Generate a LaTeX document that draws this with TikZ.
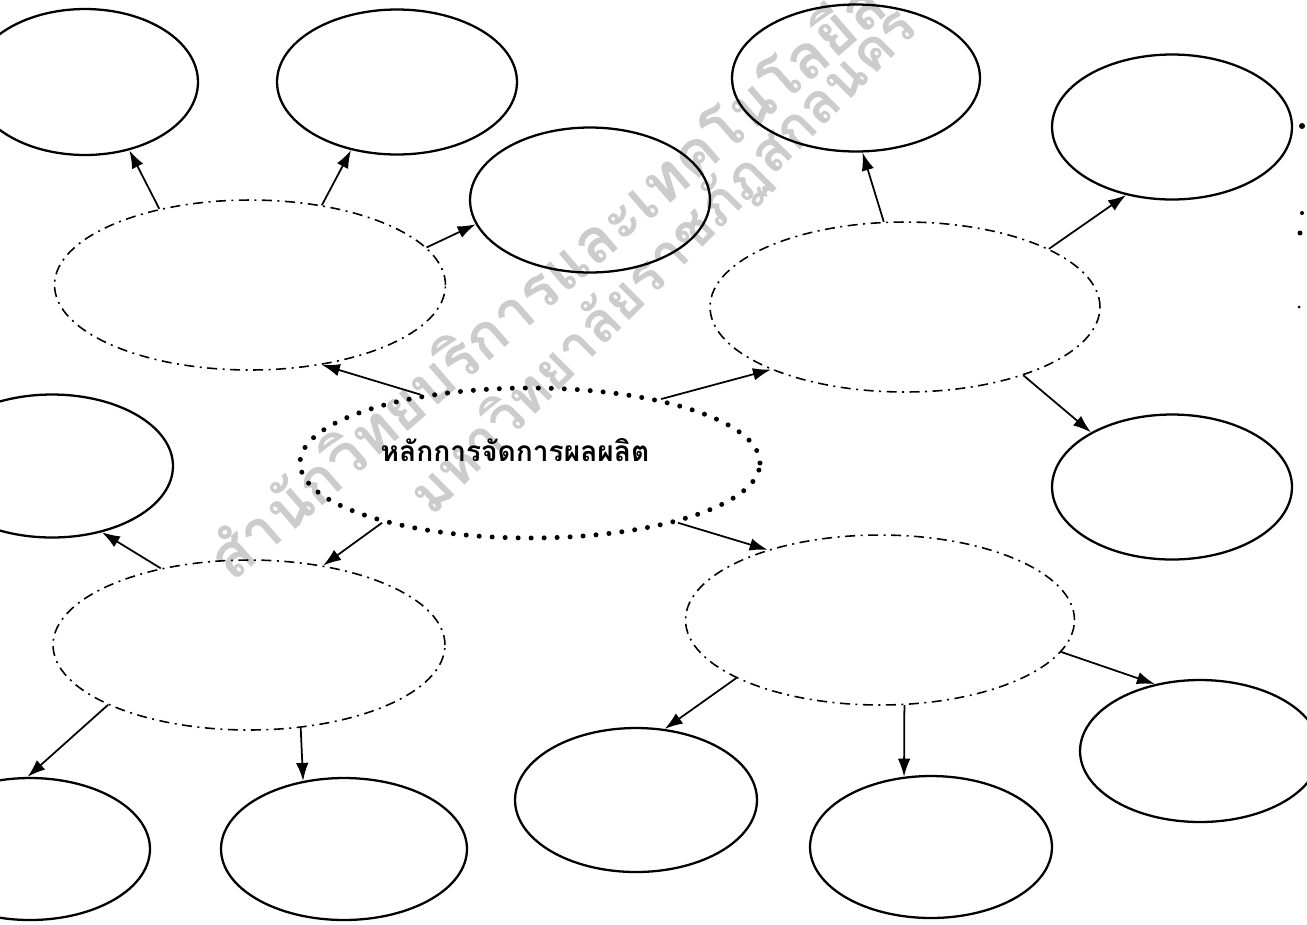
\documentclass[tikz,border=0pt]{standalone}
\usepackage{fontspec}
\newfontfamily\thaifont[Script=Thai]{Loma}
\usetikzlibrary{arrows.meta,shapes.geometric}

\begin{document}
\begin{tikzpicture}[x=0.02cm,y=-0.02cm,>={Latex[length=3.6mm,width=2.5mm]},
  leaf/.style={ellipse,draw,line width=1.3pt,inner sep=0pt},
  branch/.style={ellipse,draw,line width=0.9pt,inner sep=0pt,
  dash pattern=on 2mm off 1.1mm on 0.4mm off 1.1mm},
  core/.style={ellipse,draw,line width=1mm,inner sep=0pt,line cap=round,
  dash pattern=on 0pt off 2.6mm},
  link/.style={->,line width=1pt},
  stamp/.style={text=gray!40,font=\thaifont\bfseries\fontsize{35}{35}\selectfont}]
  \useasboundingbox (0,0) rectangle (1307,924);
  \clip (0,0) rectangle (1307,924);
  \node[stamp,rotate=41,anchor=base west] (stamp1) at (228,588)
    {สำนักวิทยบริการและเทคโนโลยีสารสนเทศ};
  \node[stamp,rotate=45,anchor=base west,font=\thaifont\bfseries\fontsize{32}{32}\selectfont]
    (stamp2) at (428,522) {มหาวิทยาลัยราชภัฏสกลนคร};
  \node[core,minimum width=9.2cm,minimum height=3cm,
    label={[name=title,xshift=-3mm,yshift=2.6mm,
    font=\thaifont\bfseries\fontsize{16}{19}\selectfont]center:หลักการจัดการผลผลิต}]
    (core) at (530,463) {};
  \node[branch,minimum width=7.82cm,minimum height=3.4cm] (topl) at (250,285) {};
  \node[branch,minimum width=7.8cm,minimum height=3.4cm] (topr) at (905,307) {};
  \node[branch,minimum width=7.84cm,minimum height=3.4cm] (botl) at (249,645) {};
  \node[branch,minimum width=7.78cm,minimum height=3.4cm] (botr) at (880,620) {};
  \node[leaf,minimum width=4.52cm,minimum height=2.92cm] (tl1) at (85,82) {};
  \node[leaf,minimum width=4.8cm,minimum height=2.9cm] (tl2) at (397,82) {};
  \node[leaf,minimum width=4.8cm,minimum height=2.9cm] (tl3) at (590,200) {};
  \node[leaf,minimum width=4.96cm,minimum height=2.94cm] (tr1) at (856,78) {};
  \node[leaf,minimum width=4.8cm,minimum height=2.9cm] (tr2) at (1172,127) {};
  \node[leaf,minimum width=4.8cm,minimum height=2.9cm] (tr3) at (1172,487) {};
  \node[leaf,minimum width=4.84cm,minimum height=2.86cm] (bl1) at (52,466) {};
  \node[leaf,minimum width=4.8cm,minimum height=2.84cm] (bl2) at (30,849) {};
  \node[leaf,minimum width=4.92cm,minimum height=2.84cm] (bl3) at (344,849) {};
  \node[leaf,minimum width=4.84cm,minimum height=2.88cm] (br1) at (636,800) {};
  \node[leaf,minimum width=4.84cm,minimum height=2.84cm] (br2) at (931,847) {};
  \node[leaf,minimum width=4.8cm,minimum height=2.84cm] (br3) at (1200,751) {};
  \draw[link] (core.148) -- (topl.312);
  \draw[link] (core.26) -- (topr.205);
  \draw[link] (core.202) -- (botl.47);
  \draw[link] (core.-22) -- (botr.148);
  \draw[link] (topl.140) -- (tl1.-57);
  \draw[link] (topl.48) -- (tl2.236);
  \draw[link] (topl.12) -- (tl3.192);
  \draw[link] (topr.104) -- (tr1.-85);
  \draw[link] (topr.22) -- (tr2.236);
  \draw[link] (topr.-30) -- (tr3.146);
  \draw[link] (botl.139) -- (bl1.-53);
  \draw[link] (botl.203) -- (bl2.92);
  \draw[link] (botl.-58) -- (bl3.121);
  \draw[link] (botr.202) -- (br1.68);
  \draw[link] (botr.-74) -- (br2.111);
  \draw[link] (botr.-10) -- (br3.124);
  \fill (1302,126) circle (3);
  \fill (1302,213) circle (2);
  \fill (1300,233) circle (2.5);
  \fill (1299,307) circle (1.5);
\end{tikzpicture}
\end{document}
